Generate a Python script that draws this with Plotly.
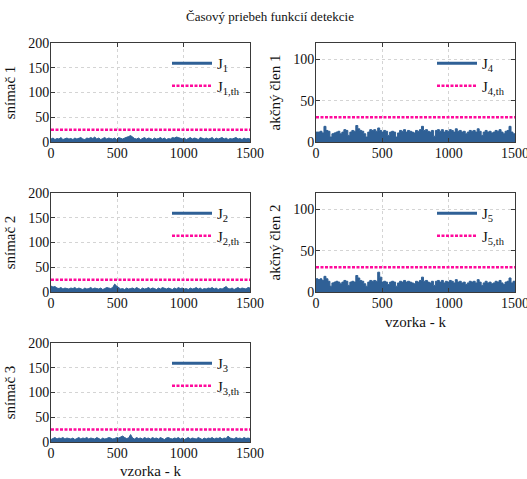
import numpy as np
import plotly.graph_objects as go
from plotly.subplots import make_subplots

# Sample index (every 15th sample of the 0..1500 run)
k = np.arange(0, 1501, 15)

# Detection functions for the three sensors
J1 = [6,8,5,7,6,9,5,7,8,6, 7,5,8,6,7,9,6,5,8,7, 9,7,10,6,8,5,7,9,6,8,
      7,6,8,5,9,7,6,8,9,11, 13,9,7,6,8,5,7,9,6,8, 7,5,8,6,7,9,6,8,5,7,
      6,9,8,10,9,7,6,8,5,7, 9,6,8,7,5,9,7,6,8,6, 7,9,5,8,6,7,9,6,8,5,
      7,6,8,9,6,7,5,8,6,7, 6]
J2 = [12,10,11,8,7,9,6,8,7,6, 8,7,9,6,8,7,5,8,6,7, 9,6,8,7,6,8,5,7,9,8,
      7,9,16,12,8,6,7,5,8,6, 7,8,6,9,7,5,8,6,7,9, 6,8,7,5,8,6,9,7,6,8,
      7,5,8,6,9,7,8,6,7,5, 8,6,7,9,6,8,5,7,6,8, 7,9,6,8,5,7,6,8,11,7,
      6,8,5,7,9,6,8,7,6,9, 8]
J3 = [5,7,9,6,8,7,9,6,8,7, 6,8,5,7,9,6,8,7,9,6, 8,7,6,9,7,5,8,6,7,9,
      8,6,7,9,8,10,12,9,7,8, 15,8,6,9,7,8,6,9,7,8, 6,9,7,8,6,9,7,5,8,9,
      7,6,8,7,9,6,8,5,7,9, 6,8,7,6,9,7,5,8,6,8, 7,9,6,8,7,9,6,8,7,12,
      8,7,6,9,7,8,6,9,7,8, 7]
# Detection functions for the two actuators
J4 = [12,12,13,11,19,14,13,6,10,11, 12,13,10,12,15,14,8,12,14,13,
      20,16,14,13,10,6,12,15,14,15, 13,17,14,12,14,13,8,12,13,12,
      6,11,14,13,15,12,14,13,12,11, 14,13,15,19,14,15,13,12,14,7,
      14,15,13,15,12,14,13,15,14,12, 16,13,14,12,13,10,12,14,13,14,
      12,16,13,8,12,14,12,13,11,12, 14,13,15,12,10,13,14,19,12,10, 10]
J5 = [16,15,16,14,19,16,13,7,11,12, 13,12,10,12,14,13,8,12,13,12,
      20,17,14,13,10,7,12,14,13,14, 13,24,18,12,13,12,9,12,13,12,
      7,11,13,12,14,12,13,12,11,10, 13,12,14,18,13,14,12,11,13,8,
      13,14,12,14,11,13,12,14,13,11, 15,12,13,11,12,9,11,13,12,13,
      11,15,12,8,11,13,11,12,10,11, 13,12,14,11,9,12,13,17,11,13, 12]

# Detection thresholds
TH_SENSOR = 25
TH_ACTUATOR = 30

BLUE = "#2f6096"
PINK = "#ff0a9c"
TXT = "#111111"
FONT = "Liberation Serif"

panels = [
    # (row, col, series, number, threshold, y label, y max, y ticks, legend id)
    (1, 1, J1, 1, TH_SENSOR, "snímač 1", 200, [0, 50, 100, 150, 200], "legend"),
    (1, 2, J4, 4, TH_ACTUATOR, "akčný člen 1", 120, [0, 50, 100], "legend2"),
    (2, 1, J2, 2, TH_SENSOR, "snímač 2", 200, [0, 50, 100, 150, 200], "legend3"),
    (2, 2, J5, 5, TH_ACTUATOR, "akčný člen 2", 120, [0, 50, 100], "legend4"),
    (3, 1, J3, 3, TH_SENSOR, "snímač 3", 200, [0, 50, 100, 150, 200], "legend5"),
]

fig = make_subplots(rows=3, cols=2, specs=[[{}, {}], [{}, {}], [{}, None]])

W, H = 527, 479
col_px = {1: (51, 250), 2: (316, 515)}
row_px = {1: (43, 142), 2: (193, 292), 3: (343, 442)}

for idx, (r, c, J, n, th, ylab, ymax, yt, leg) in enumerate(panels, start=1):
    shape = "hv" if c == 2 else "linear"
    fig.add_trace(go.Scatter(x=k, y=J, mode="lines", fill="tozeroy",
                             fillcolor=BLUE, line=dict(color=BLUE, width=1, shape=shape),
                             showlegend=False, hoverinfo="skip"), row=r, col=c)
    # legend entry for the detection function
    fig.add_trace(go.Scatter(x=[None], y=[None], mode="lines",
                             line=dict(color=BLUE, width=3),
                             name=f"J<sub>{n}</sub>", legend=leg), row=r, col=c)
    fig.add_trace(go.Scatter(x=[k[0], k[-1]], y=[th, th], mode="lines",
                             line=dict(color=PINK, width=2.5, dash="3px,1.5px"),
                             name=f"J<sub>{n},th</sub>", legend=leg), row=r, col=c)

    x0, x1 = col_px[c]
    y0, y1 = row_px[r]
    xa = "xaxis" if idx == 1 else f"xaxis{idx}"
    ya = "yaxis" if idx == 1 else f"yaxis{idx}"
    axis_common = dict(showline=True, linecolor="#3a3a3a", linewidth=1, mirror="allticks",
                       ticks="inside", ticklen=4, tickcolor="#3a3a3a", automargin=False,
                       ticklabeloverflow="allow", ticklabelstandoff=-2,
                       showgrid=True, gridcolor="#d4d4d4", griddash="dot", gridwidth=1,
                       zeroline=False, tickfont=dict(family=FONT, size=14, color=TXT))
    fig.layout[xa].update(domain=[x0 / W, x1 / W], range=[0, 1500],
                          tickvals=[0, 500, 1000, 1500], **axis_common)
    fig.layout[ya].update(domain=[1 - y1 / H, 1 - y0 / H], range=[0, ymax],
                          tickvals=yt,
                          title=dict(text=ylab, font=dict(family=FONT, size=15, color=TXT),
                                     standoff=8),
                          **axis_common)
    if (r, c) in [(2, 2), (3, 1)]:
        fig.layout[xa].update(title=dict(text="vzorka - k",
                                         font=dict(family=FONT, size=15, color=TXT),
                                         standoff=6))

    lx = (x0 + 116) / W
    ly = 1 - (y0 + 4) / H
    fig.layout[leg] = dict(x=lx, y=ly, xanchor="left", yanchor="top",
                           bgcolor="rgba(0,0,0,0)", borderwidth=0,
                           font=dict(family=FONT, size=15, color=TXT),
                           itemwidth=40, tracegroupgap=0)

fig.update_layout(
    width=W, height=H,
    margin=dict(l=0, r=0, t=0, b=0),
    paper_bgcolor="white", plot_bgcolor="white",
    font=dict(family=FONT, color=TXT),
    title=dict(text="Časový priebeh funkcií detekcie", x=270 / W, y=1 - 16 / H,
               xanchor="center", yanchor="middle",
               font=dict(family=FONT, size=13, color=TXT)),
)

fig.write_html("out.html")
